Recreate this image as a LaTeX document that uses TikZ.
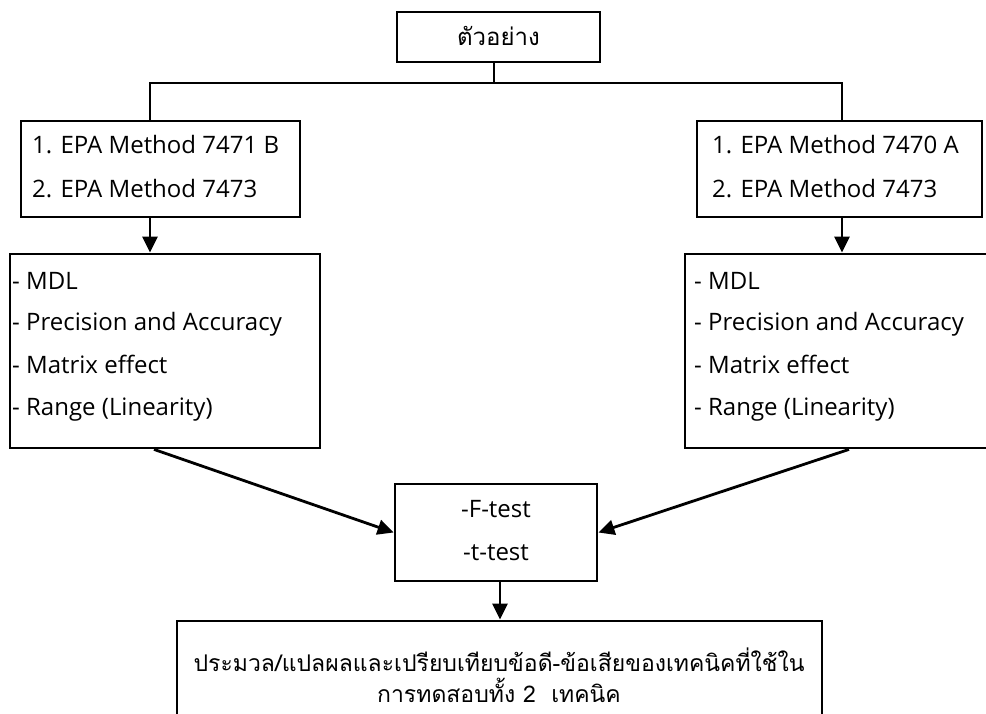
\documentclass[tikz,border=0pt]{standalone}
\usepackage{fontspec}
\setmainfont{Open Sans}
\newfontfamily\thaifont[Script=Thai]{Loma}
\usetikzlibrary{arrows.meta,calc}
\begin{document}
\begin{tikzpicture}[x=1pt,y=-1pt,
  box/.style={draw,line width=2.8pt,rectangle,inner sep=0pt},
  ln/.style={inner sep=0pt,anchor=west,text height=17pt,text depth=0pt,font=\fontsize{24}{28}\selectfont},
  cn/.style={ln,anchor=center},
  th/.style={cn,font=\thaifont\fontsize{23}{27}\selectfont},
  conn/.style={line width=2.8pt},
  arr/.style={conn,-{Triangle[length=16pt,width=15pt]}}]
\useasboundingbox (0,0) rectangle (986,713);
\clip (0,0) rectangle (986,713);

% boxes
\node[box,minimum width=203pt,minimum height=50pt] (top) at (498.5,37) {};
\node[box,minimum width=279pt,minimum height=96pt] (lb1) at (160.5,169) {};
\node[box,minimum width=285pt,minimum height=96pt] (rb1) at (839.5,169) {};
\node[box,minimum width=310pt,minimum height=194pt] (lb2) at (165,351) {};
\node[box,minimum width=315pt,minimum height=194pt] (rb2) at (842.5,351) {};
\node[box,minimum width=202pt,minimum height=97pt] (mid) at (496,532.5) {};
\node[box,minimum width=645pt,minimum height=139pt] (bot) at (499.5,690.5) {};

% texts
\node[th,font=\thaifont\fontsize{24}{28}\selectfont] (toptxt) at (498.5,37) {ตัวอย่าง};

\node[ln] (lb1a) at (32,145) {1. EPA Method 7471 B};
\node[ln] (lb1b) at (32,189) {2. EPA Method 7473};
\node[ln] (rb1a) at (712,145) {1. EPA Method 7470 A};
\node[ln] (rb1b) at (712,189) {2. EPA Method 7473};

\node[ln] (lb2a) at (12,281) {- MDL};
\node[ln] (lb2b) at (12,322) {- Precision and Accuracy};
\node[ln] (lb2c) at (12,365) {- Matrix effect};
\node[ln] (lb2d) at (12,407) {- Range (Linearity)};
\node[ln] (rb2a) at (694,281) {- MDL};
\node[ln] (rb2b) at (694,322) {- Precision and Accuracy};
\node[ln] (rb2c) at (694,365) {- Matrix effect};
\node[ln] (rb2d) at (694,407) {- Range (Linearity)};

\node[cn] (mida) at (496,509) {-F-test};
\node[cn] (midb) at (496,552) {-t-test};

\node[th] (bota) at (499,663) {ประมวล/แปลผลและเปรียบเทียบข้อดี-ข้อเสียของเทคนิคที่ใช้ใน};
\node[th] (botb) at (499,694) {การทดสอบทั้ง 2~~เทคนิค};

% connectors
\coordinate (jl) at (150,83);
\coordinate (jr) at (842,83);
\draw[conn] ([xshift=-4.5pt]top.south) -- ([xshift=-4.5pt]top.south |- jl);
\draw[conn] (lb1.north -| jl) -- (jl) -- (jr) -- (rb1.north -| jr);
\draw[arr] (lb1.south -| jl) -- (lb2.north -| jl);
\draw[arr] (rb1.south -| jr) -- (rb2.north -| jr);
\draw[arr] ([xshift=-11pt]lb2.south) -- (mid.west);
\draw[arr] ([xshift=6.5pt]rb2.south) -- (mid.east);
\draw[arr] ([xshift=4pt]mid.south) -- ([xshift=4pt]mid.south |- bot.north);
\end{tikzpicture}
\end{document}
